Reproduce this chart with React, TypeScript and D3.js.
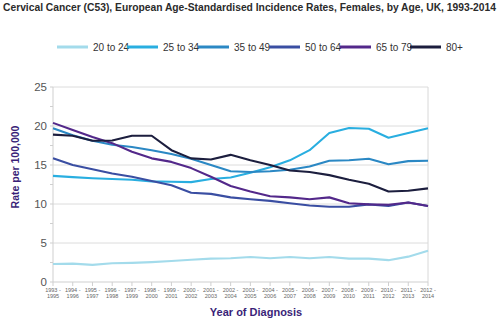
import React from "react";
import * as d3 from "d3";

const title = "Cervical Cancer (C53), European Age-Standardised Incidence Rates, Females, by Age, UK, 1993-2014";
const periods = [
  "1993 - 1995", "1994 - 1996", "1995 - 1997", "1996 - 1998", "1997 - 1999",
  "1998 - 2000", "1999 - 2001", "2000 - 2002", "2001 - 2003", "2002 - 2004",
  "2003 - 2005", "2004 - 2006", "2005 - 2007", "2006 - 2008", "2007 - 2009",
  "2008 - 2010", "2009 - 2011", "2010 - 2012", "2011 - 2013", "2012 - 2014",
];
const seriesNames = ["20 to 24", "25 to 34", "35 to 49", "50 to 64", "65 to 79", "80+"];
const seriesColors = ["#a3dbeb", "#29aee0", "#2b88c4", "#3a4ea2", "#53288a", "#1c1e3e"];
const age20to24 = [2.3, 2.35, 2.2, 2.4, 2.45, 2.55, 2.7, 2.85, 3.0, 3.05, 3.2, 3.05, 3.2, 3.05, 3.2, 3.0, 3.0, 2.8, 3.25, 4.0];
const age25to34 = [13.6, 13.45, 13.3, 13.2, 13.1, 12.9, 12.85, 12.8, 13.2, 13.4, 14.0, 14.7, 15.6, 16.9, 19.1, 19.75, 19.65, 18.5, 19.1, 19.7];
const age35to49 = [19.7, 18.8, 18.1, 17.6, 17.3, 16.9, 16.4, 15.8, 15.0, 14.2, 14.1, 14.2, 14.4, 14.8, 15.55, 15.6, 15.8, 15.1, 15.5, 15.55];
const age50to64 = [15.85, 15.0, 14.45, 13.9, 13.5, 12.95, 12.4, 11.45, 11.3, 10.85, 10.6, 10.4, 10.1, 9.8, 9.65, 9.65, 9.95, 9.75, 10.2, 9.75];
const age65to79 = [20.4, 19.5, 18.6, 17.8, 16.7, 15.85, 15.4, 14.6, 13.5, 12.3, 11.6, 11.0, 10.85, 10.6, 10.85, 10.1, 9.95, 9.9, 10.2, 9.75];
const age80plus = [18.9, 18.75, 18.1, 18.15, 18.75, 18.75, 16.9, 15.85, 15.7, 16.3, 15.6, 15.0, 14.3, 14.1, 13.7, 13.1, 12.6, 11.6, 11.7, 12.0];
const seriesValues = [age20to24, age25to34, age35to49, age50to64, age65to79, age80plus];
const yTicks = [0, 5, 10, 15, 20, 25];

const FONT = "'Liberation Sans', Arial, sans-serif";

export default function App() {
  const x = d3.scaleLinear().domain([0, periods.length - 1]).range([53, 428]);
  const y = d3.scaleLinear().domain([0, 25]).range([282, 87]);
  const line = d3
    .line<number>()
    .x((_, i) => x(i))
    .y((d) => y(d));
  const minor = d3.range(0, 25.01, 2.5);
  const legendX = [57, 127, 198, 269, 340, 410];

  return (
    <svg
      width={500}
      height={323}
      style={{ position: "absolute", left: 0, top: 0, background: "#fff" }}
      fontFamily={FONT}
    >
      <text x={3} y={10.5} fontSize={10} fontWeight="bold" fill="#2b2b2b" textLength={493} lengthAdjust="spacingAndGlyphs">
        {title}
      </text>

      {seriesNames.map((name, i) => (
        <g key={name}>
          <line x1={legendX[i]} x2={legendX[i] + 31} y1={47} y2={47} stroke={seriesColors[i]} strokeWidth={3} />
          <text x={legendX[i] + 36} y={50.5} fontSize={10} fill="#333">
            {name}
          </text>
        </g>
      ))}

      {yTicks.map((t) => (
        <g key={t}>
          {t > 0 && <line x1={53} x2={428} y1={y(t)} y2={y(t)} stroke="#dcdcdc" strokeWidth={1} />}
          <text x={47} y={y(t) + 4} fontSize={11.5} fill="#555" textAnchor="end">
            {t}
          </text>
        </g>
      ))}
      {minor.map((t) => (
        <line key={t} x1={50} x2={53} y1={y(t)} y2={y(t)} stroke="#cfcfcf" strokeWidth={1} />
      ))}
      <line x1={53} x2={53} y1={87} y2={282} stroke="#cfcfcf" strokeWidth={1} />
      <line x1={428} x2={428} y1={87} y2={282} stroke="#d8d8d8" strokeWidth={1} />
      <line x1={53} x2={428} y1={282} y2={282} stroke="#cfcfcf" strokeWidth={1} />

      {periods.map((p, i) => {
        const [a, b] = p.split(" - ");
        return (
          <g key={p}>
            <line x1={x(i)} x2={x(i)} y1={282} y2={286} stroke="#cfcfcf" strokeWidth={1} />
            <text x={x(i)} y={292} fontSize={5.5} fill="#666" textAnchor="middle">
              {a + " -"}
            </text>
            <text x={x(i)} y={297.5} fontSize={5.5} fill="#666" textAnchor="middle">
              {b}
            </text>
          </g>
        );
      })}

      {seriesValues.map((vals, i) => (
        <path key={i} d={line(vals) || ""} fill="none" stroke={seriesColors[i]} strokeWidth={2.1} strokeLinejoin="round" />
      ))}

      <text
        transform="translate(19,167) rotate(-90)"
        fontSize={10.5}
        fontWeight="bold"
        fill="#3a1f78"
        textAnchor="middle"
      >
        Rate per 100,000
      </text>
      <text x={256} y={316} fontSize={11} fontWeight="bold" fill="#3a1f78" textAnchor="middle">
        Year of Diagnosis
      </text>
    </svg>
  );
}
